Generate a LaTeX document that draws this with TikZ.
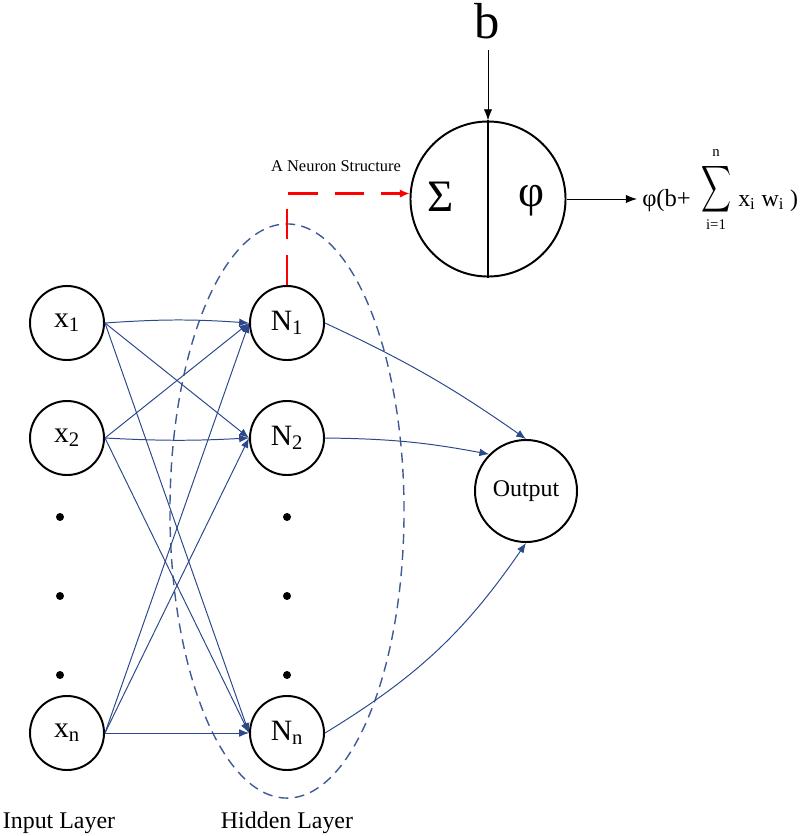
\documentclass[tikz,border=0pt]{standalone}
\usepackage{fontspec}
\usepackage{graphicx}
\setmainfont{Liberation Serif}
\usetikzlibrary{arrows.meta,positioning,calc}

\definecolor{netblue}{RGB}{44,72,140}
\definecolor{ringblue}{RGB}{62,90,152}

\tikzset{
  unit/.style={circle,draw=black,line width=1.4pt,minimum size=1.85cm,inner sep=0pt,font=\fontsize{21}{24}\selectfont},
  conn/.style={draw=netblue,line width=0.7pt,-{Latex[length=7pt,width=5.5pt]}},
  vdot/.style={circle,fill=black,minimum size=0.2cm,inner sep=0pt},
  layername/.style={font=\fontsize{17}{20}\selectfont},
}

\begin{document}
\begin{tikzpicture}[x=0.025cm,y=-0.025cm]
  \useasboundingbox (0,0) rectangle (800,836);
  % input layer
  \node[unit] (x1) at (67,323) {x\textsubscript{1}};
  \node[unit] (x2) at (67,438) {x\textsubscript{2}};
  \node[vdot] (xd1) at (60,517) {};
  \node[vdot] (xd2) at (60,596) {};
  \node[vdot] (xd3) at (60,675) {};
  \node[unit] (xn) at (67,733) {x\textsubscript{n}};
  % hidden layer
  \node[unit] (N1) at (287,323) {N\textsubscript{1}};
  \node[unit] (N2) at (287,438) {N\textsubscript{2}};
  \node[vdot] (nd1) at (287,517) {};
  \node[vdot] (nd2) at (287,596) {};
  \node[vdot] (nd3) at (287,675) {};
  \node[unit] (Nn) at (287,733) {N\textsubscript{n}};
  \draw[ringblue,line width=1pt,dash pattern=on 7pt off 4.5pt] (287,511) ellipse [x radius=2.925cm, y radius=7.175cm];
  % output
  \node[unit,minimum size=2.55cm,font=\fontsize{17}{20}\selectfont] (out) at (526,491) {Output};
  % connections
  \draw[conn] (x1.east) to[bend left=4] (N1.west);
  \draw[conn] (x1.east) -- (N2.west);
  \draw[conn] (x1.east) -- (Nn.west);
  \draw[conn] (x2.east) -- (N1.west);
  \draw[conn] (x2.east) to[bend right=3] (N2.west);
  \draw[conn] (x2.east) -- (Nn.west);
  \draw[conn] (xn.east) -- (N1.west);
  \draw[conn] (xn.east) -- (N2.west);
  \draw[conn] (xn.east) -- (Nn.west);
  \draw[conn] (N1.east) to[bend left=5] (out.north);
  \draw[conn] (N2.east) to[bend left=5] (out.135);
  \draw[conn] (Nn.east) to[bend right=12] (out.south);
  % neuron structure
  \node[circle,draw=black,line width=1.4pt,minimum size=3.875cm,inner sep=0pt] (neuron) at (488,199) {};
  \draw[line width=1.4pt] (neuron.north) -- (neuron.south);
  \node[font=\fontsize{32}{36}\selectfont] (sig) at (441,197) {Σ};
  \node[font=\fontsize{32}{36}\selectfont] (phi) at (531,201) {φ};
  \node[anchor=base,font=\fontsize{36}{40}\selectfont] (bias) at (487,38) {b};
  \coordinate (btail) at (488,50);
  \draw[line width=0.7pt,-{Latex[length=8pt,width=6pt]}] (btail) -- (neuron.north);
  \coordinate (yout) at (637,199);
  \draw[line width=0.7pt,-{Latex[length=8pt,width=6pt]}] (neuron.east) -- (yout);
  \draw[draw=red,line width=1.5pt,dash pattern=on 21pt off 12pt,-{Latex[length=7pt,width=6pt]}] (N1.north) |- (neuron.176);
  \node[font=\fontsize{11.7}{14}\selectfont] (lbl) at (336,166) {A Neuron Structure};
  % activation formula
  \node[anchor=base west,inner sep=0pt,font=\fontsize{17.5}{20}\selectfont] (fl) at (642,206) {φ(b+};
  \node[inner sep=0pt] (sum) at (716,189) {\resizebox*{0.75cm}{1.3cm}{$\displaystyle\sum$}};
  \node[inner sep=1pt,font=\fontsize{10.5}{12}\selectfont] (sumtop) at (716,153) {n};
  \node[inner sep=1pt,font=\fontsize{10.5}{12}\selectfont] (sumbot) at (716,225) {i=1};
  \node[anchor=base west,inner sep=0pt,font=\fontsize{17}{20}\selectfont] (fr) at (738,206) {x\textsubscript{i} w\textsubscript{i} )};
  % layer names
  \node[layername] (inl) at (59,823) {Input Layer};
  \node[layername] (hidl) at (287,823) {Hidden Layer};
\end{tikzpicture}
\end{document}
